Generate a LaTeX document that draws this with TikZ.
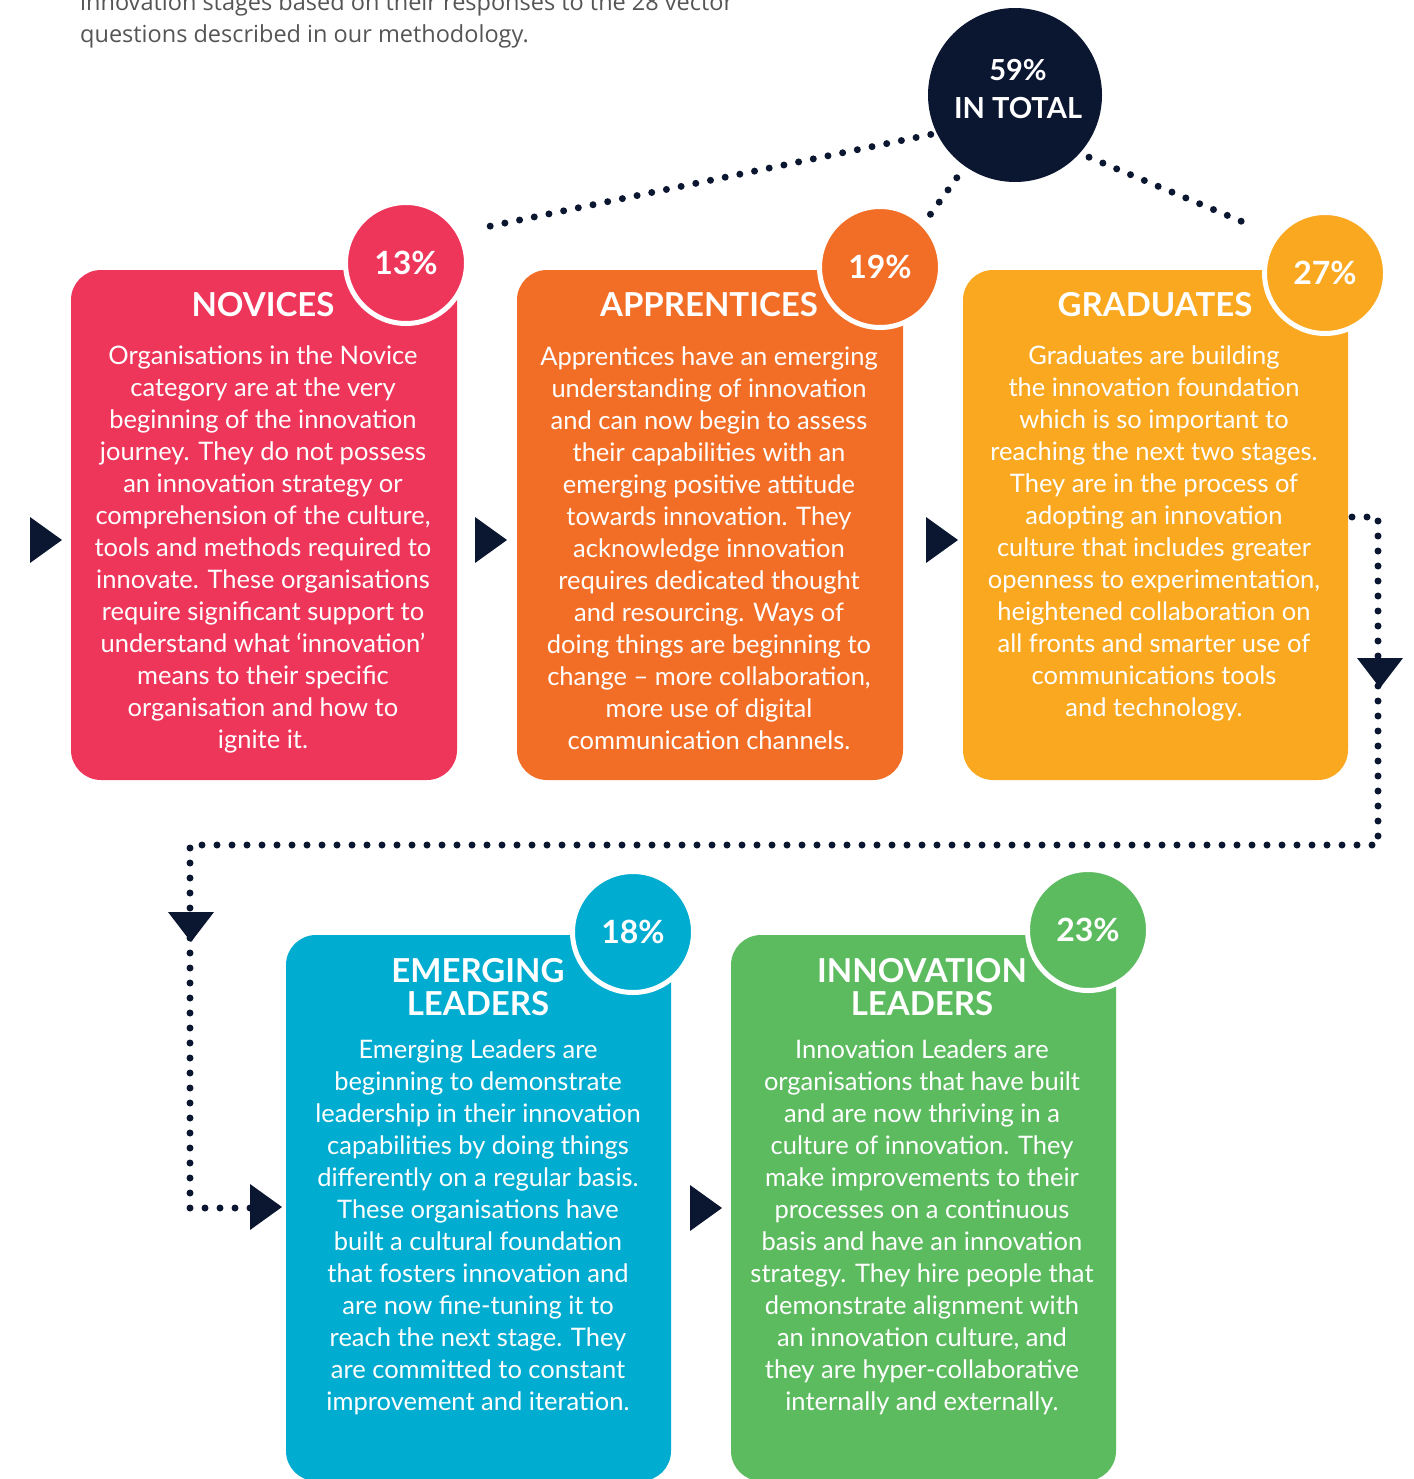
\documentclass[tikz,border=0pt]{standalone}
\usepackage{fontspec}
\setmainfont{Lato}
\newfontfamily\introfont{Open Sans}
\usetikzlibrary{calc}

\definecolor{navy}{HTML}{0B1630}
\definecolor{novpink}{HTML}{EE355A}
\definecolor{apporange}{HTML}{F26E27}
\definecolor{gradyellow}{HTML}{F9A820}
\definecolor{emerblue}{HTML}{00ACD0}
\definecolor{innogreen}{HTML}{5CBB5F}
\definecolor{introgray}{HTML}{555555}

\tikzset{
  rtri/.pic={\fill[navy] (-16,-23) -- (16,0) -- (-16,23) -- cycle;},
  dtri/.pic={\fill[navy] (-23,-15) -- (23,-15) -- (0,15) -- cycle;},
}

\begin{document}
\begin{tikzpicture}[x=1pt,y=-1pt,
  stage/.style={rectangle, rounded corners=30pt, minimum width=386pt, inner sep=0pt},
  pct/.style={circle, draw=white, line width=5pt, minimum size=121pt, inner sep=0pt,
    text=white, font=\fontsize{32}{32}\selectfont\bfseries},
  stitle/.style={text=white, font=\fontsize{33}{33}\selectfont\bfseries, align=center, inner sep=0pt},
  body/.style={text=white, font=\fontsize{25.5}{32}\selectfont, align=center, inner sep=0pt},
  dots/.style={navy, line width=7pt, line cap=round, dash pattern=on 0pt off 15pt},
]
\useasboundingbox (0,0) rectangle (1413,1479);

% intro text
\node[anchor=base west, text=introgray, font=\introfont\fontsize{23.5}{30}\selectfont, inner sep=0pt]
  (intro1) at (80,11) {innovation stages based on their responses to the 28 vector};
\node[anchor=base west, text=introgray, font=\introfont\fontsize{23.5}{30}\selectfont, inner sep=0pt]
  (intro2) at (80,43) {questions described in our methodology.};

% total circle
\node[circle, fill=navy, minimum size=174pt, inner sep=0pt] (total) at (1015,95) {};
\node[text=white, align=center, inner sep=0pt,
  font=\fontsize{29}{38}\selectfont\bfseries] (totaltext) at (1018,89) {59\%\\IN TOTAL};

% stage boxes, top row
\node[stage, fill=novpink, minimum height=510pt] (nov) at (264,525) {};
\node[stage, fill=apporange, minimum height=510pt] (app) at (710,525) {};
\node[stage, fill=gradyellow, minimum height=510pt, minimum width=385pt] (grad) at (1155.5,525) {};
% stage boxes, bottom row
\node[stage, fill=emerblue, minimum height=546pt, minimum width=385pt] (emer) at (478.5,1208) {};
\node[stage, fill=innogreen, minimum height=546pt, minimum width=385pt] (inno) at (923.5,1208) {};

% percentage badges
\node[pct, fill=novpink] (p13) at (406,263) {13\%};
\node[pct, fill=apporange] (p19) at (880,267) {19\%};
\node[pct, fill=gradyellow] (p27) at (1325,273) {27\%};
\node[pct, fill=emerblue] (p18) at (633,932) {18\%};
\node[pct, fill=innogreen] (p23) at (1088,930) {23\%};

% titles
\node[stitle] (tnov) at (263,305) {NOVICES};
\node[stitle] (tapp) at (709,305) {APPRENTICES};
\node[stitle] (tgrad) at (1155,305) {GRADUATES};
\node[stitle] (temer) at (478,987) {EMERGING\\LEADERS};
\node[stitle] (tinno) at (922,987) {INNOVATION\\LEADERS};

% descriptions
\node[body] (bnov) at (263,549) {Organisations in the Novice\\category are at the very\\beginning of the innovation\\journey. They do not possess\\an innovation strategy or\\comprehension of the culture,\\tools and methods required to\\innovate. These organisations\\require significant support to\\understand what ‘innovation’\\means to their specific\\organisation and how to\\ignite it.};
\node[body] (bapp) at (709,548) {Apprentices have an emerging\\understanding of innovation\\and can now begin to assess\\their capabilities with an\\emerging positive attitude\\towards innovation. They\\acknowledge innovation\\requires dedicated thought\\and resourcing. Ways of\\doing things are beginning to\\change – more collaboration,\\more use of digital\\communication channels.};
\node[body] (bgrad) at (1154,533) {Graduates are building\\the innovation foundation\\which is so important to\\reaching the next two stages.\\They are in the process of\\adopting an innovation\\culture that includes greater\\openness to experimentation,\\heightened collaboration on\\all fronts and smarter use of\\communications tools\\and technology.};
\node[body] (bemer) at (478,1227) {Emerging Leaders are\\beginning to demonstrate\\leadership in their innovation\\capabilities by doing things\\differently on a regular basis.\\These organisations have\\built a cultural foundation\\that fosters innovation and\\are now fine-tuning it to\\reach the next stage. They\\are committed to constant\\improvement and iteration.};
\node[body] (binno) at (922,1227) {Innovation Leaders are\\organisations that have built\\and are now thriving in a\\culture of innovation. They\\make improvements to their\\processes on a continuous\\basis and have an innovation\\strategy. They hire people that\\demonstrate alignment with\\an innovation culture, and\\they are hyper-collaborative\\internally and externally.};

% dotted links from the total
\coordinate (lend) at (486,227);
\coordinate (rend) at (1243,222);
\draw[dots, shorten <=6pt] (total.206) -- (lend);
\draw[dots, shorten <=14pt, shorten >=3pt] (total.235) -- (p19.45);
\draw[dots, shorten <=10pt] (total.-42) -- (rend);

% dotted return path from graduates to emerging leaders
\coordinate (w0) at (1352,517);
\coordinate (w1) at (1378,517);
\coordinate (w2) at (1378,845);
\coordinate (w3) at (190,845);
\coordinate (w4) at (190,1208);
\coordinate (w5) at (250,1208);
\draw[dots] (w0) -- (w1) -- (w2) -- (w3) -- (w4) -- (w5);

% arrowheads
\pic (a0) at (46,540) {rtri};
\pic (a1) at (491,540) {rtri};
\pic (a2) at (942,540) {rtri};
\pic (a3) at (1380,673) {dtri};
\pic (a4) at (191,927) {dtri};
\pic (a5) at (266,1207) {rtri};
\pic (a6) at (706,1208) {rtri};
\end{tikzpicture}
\end{document}
